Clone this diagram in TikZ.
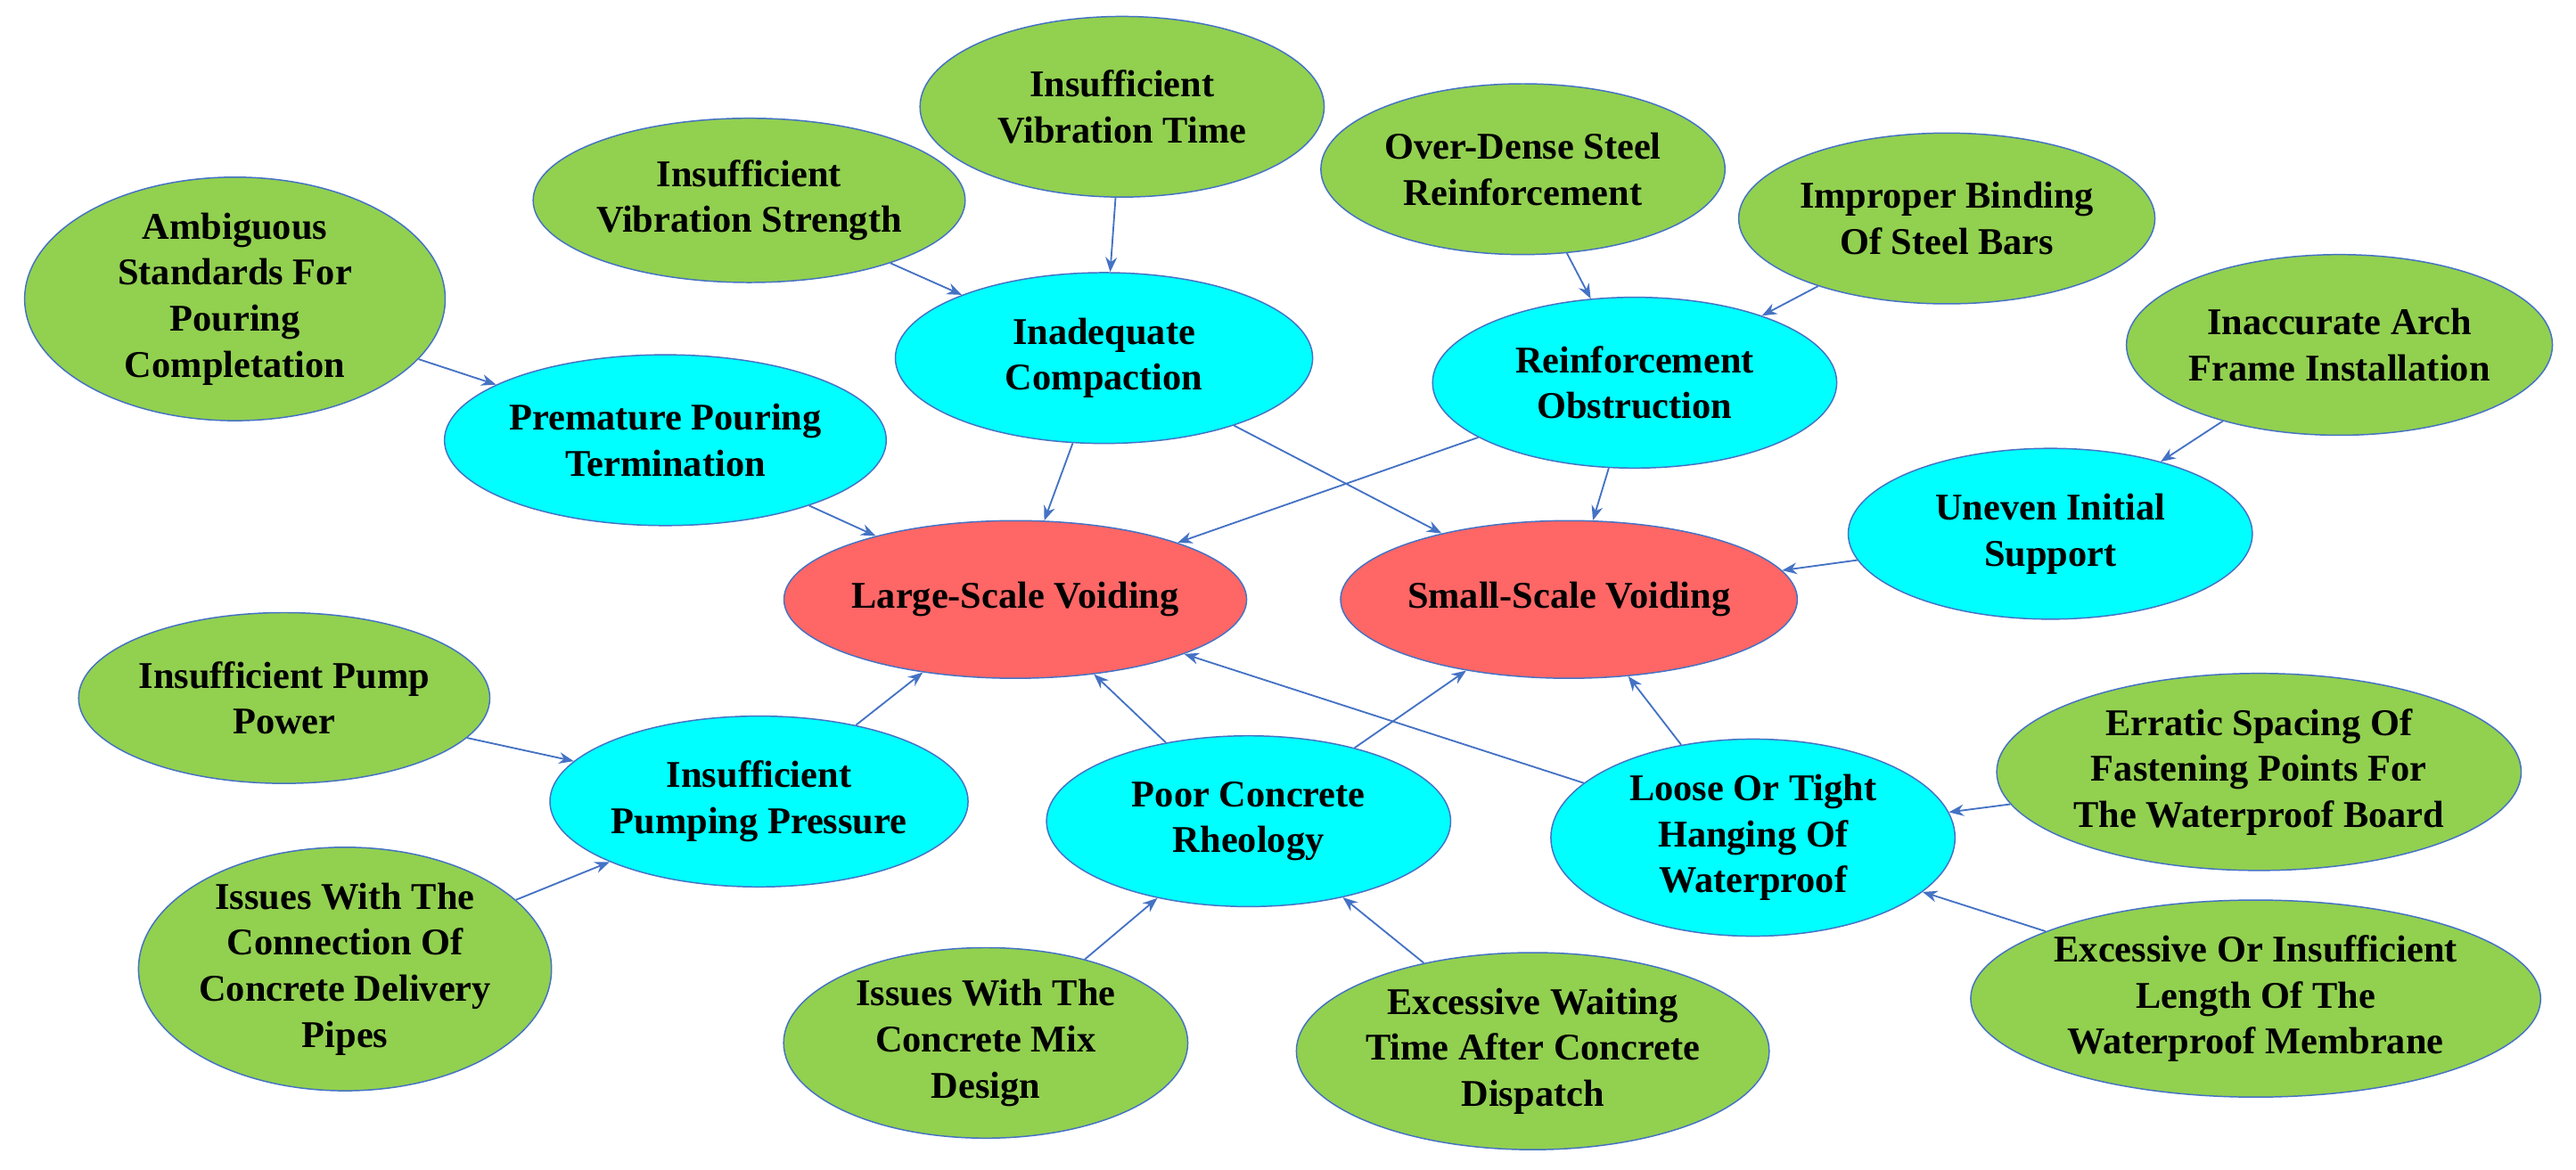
\documentclass[tikz,border=0pt]{standalone}
\usepackage{fontspec}
\setmainfont{Liberation Serif}
\usetikzlibrary{shapes.geometric,arrows.meta}
\definecolor{red1}{HTML}{FF6666}
\definecolor{cy}{HTML}{00FFFF}
\definecolor{gr}{HTML}{92D050}
\definecolor{ln}{HTML}{4472C4}
\begin{document}
\begin{tikzpicture}[x=1pt,y=-1pt,
 e/.style={ellipse,draw=ln,line width=0.8pt,inner sep=0pt,align=center,font=\fontsize{23}{28}\selectfont\bfseries},
 R/.style={e,fill=red1}, C/.style={e,fill=cy}, G/.style={e,fill=gr},
 a/.style={draw=ln,line width=1pt,-{Stealth[length=9pt,width=7pt]}}]
\useasboundingbox (0,0) rectangle (1568,712);
\node[R,minimum width=236,minimum height=96] (L) at (618,365) {Large-Scale Voiding};
\node[R,minimum width=230,minimum height=96] (S) at (955,365) {Small-Scale Voiding};
\node[C,minimum width=246,minimum height=104] (P) at (405,268) {Premature Pouring\\Termination};
\node[C,minimum width=254,minimum height=104] (I) at (672,218) {Inadequate\\Compaction};
\node[C,minimum width=246,minimum height=104] (RO) at (995,233) {Reinforcement\\Obstruction};
\node[C,minimum width=246,minimum height=104] (U) at (1248,325) {Uneven Initial\\Support};
\node[C,minimum width=246,minimum height=104] (PP) at (462,488) {Insufficient\\Pumping Pressure};
\node[C,minimum width=246,minimum height=104] (RH) at (760,500) {Poor Concrete\\Rheology};
\node[C,minimum width=246,minimum height=120] (LT) at (1067,510) {Loose Or Tight\\Hanging Of\\Waterproof};
\node[G,minimum width=256,minimum height=136] (A) at (143,182) {Ambiguous\\Standards For\\Pouring\\Completation};
\node[G,minimum width=246,minimum height=100] (VS) at (456,122) {Insufficient\\Vibration Strength};
\node[G,minimum width=246,minimum height=110] (VT) at (683,65) {Insufficient\\Vibration Time};
\node[G,minimum width=246,minimum height=104] (OD) at (927,103) {Over-Dense Steel\\Reinforcement};
\node[G,minimum width=246,minimum height=104] (IB) at (1185,133) {Improper Binding\\Of Steel Bars};
\node[G,minimum width=246,minimum height=110] (IA) at (1424,210) {Inaccurate Arch\\Frame Installation};
\node[G,minimum width=246,minimum height=104] (PW) at (173,425) {Insufficient Pump\\Power};
\node[G,minimum width=246,minimum height=136] (CN) at (210,590) {Issues With The\\Connection Of\\Concrete Delivery\\Pipes};
\node[G,minimum width=246,minimum height=116] (MD) at (600,635) {Issues With The\\Concrete Mix\\Design};
\node[G,minimum width=254,minimum height=120] (W) at (933,640) {Excessive Waiting\\Time After Concrete\\Dispatch};
\node[G,minimum width=290,minimum height=120] (ER) at (1375,470) {Erratic Spacing Of\\Fastening Points For\\The Waterproof Board};
\node[G,minimum width=300,minimum height=120] (EX) at (1373,608) {Excessive Or Insufficient\\Length Of The\\Waterproof Membrane};
\foreach \s/\t in {A/P,P/L,VS/I,VT/I,I/L,I/S,OD/RO,IB/RO,RO/L,RO/S,IA/U,U/S,PW/PP,CN/PP,PP/L,RH/L,RH/S,MD/RH,W/RH,LT/L,LT/S,ER/LT,EX/LT}
  \draw[a] (\s) -- (\t);
\end{tikzpicture}
\end{document}
